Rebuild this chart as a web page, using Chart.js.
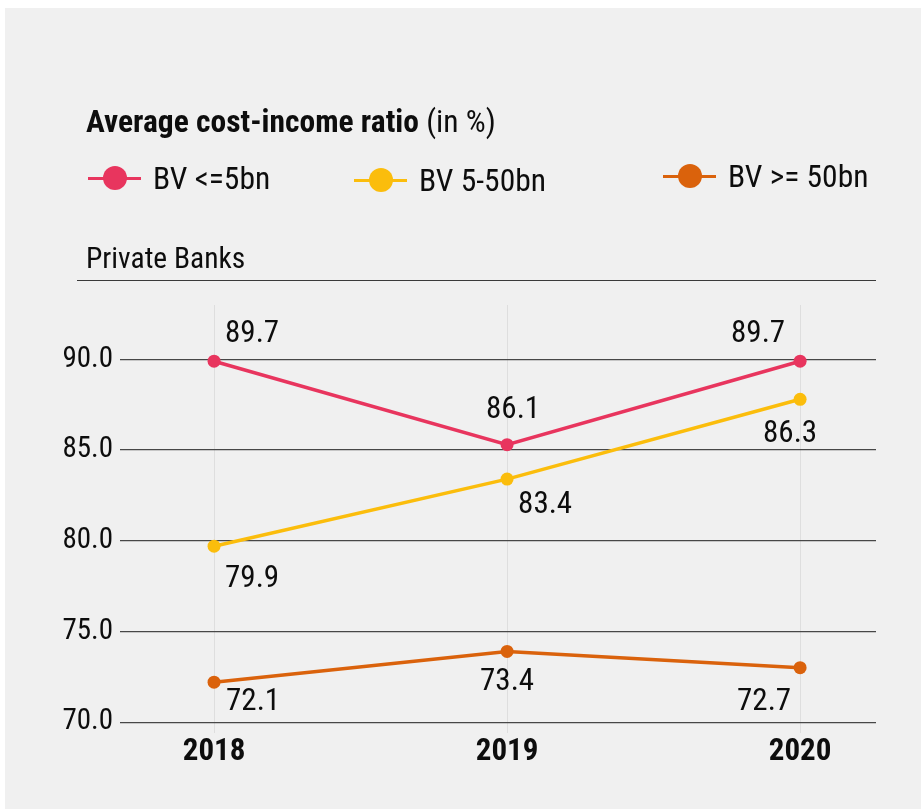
<!DOCTYPE html>
<html>
<head>
<meta charset="utf-8">
<title>Average cost-income ratio</title>
<script src="https://cdn.jsdelivr.net/npm/chart.js@4.4.1/dist/chart.umd.min.js"></script>
<style>
    body {
        margin: 0;
        background: #ffffff;
        font-family: "Liberation Sans Narrow", "Roboto Condensed", "DejaVu Sans Condensed", "Liberation Sans", sans-serif;
        color: #0d0d0d;
    }
    #panel {
        position: absolute;
        left: 5px;
        top: 8px;
        width: 916px;
        height: 801px;
        background: #f0f0f0;
    }
    #chart {
        position: absolute;
        left: 0;
        top: 0;
    }
    .txt {
        position: absolute;
        white-space: nowrap;
        line-height: 1;
    }
    #title {
        left: 86px;
        top: 106px;
        font-size: 31.5px;
    }
    #title b {
        font-weight: bold;
    }
    #subtitle {
        left: 86px;
        top: 244px;
        font-size: 29.5px;
    }
    #rule {
        position: absolute;
        left: 77px;
        top: 280px;
        width: 799px;
        height: 0;
        border-top: 1.5px solid #3a3a3a;
    }
    .legend-item {
        position: absolute;
        height: 30px;
        display: flex;
        align-items: center;
        font-size: 31.5px;
    }
    .marker {
        position: relative;
        width: 53px;
        height: 30px;
        margin-right: 12px;
    }
    .marker .line {
        position: absolute;
        left: 0;
        top: 13.5px;
        width: 53px;
        height: 3px;
    }
    .marker .dot {
        position: absolute;
        left: 15px;
        top: 3px;
        width: 24px;
        height: 24px;
        border-radius: 50%;
    }
</style>
</head>
<body>
<div id="panel"></div>
<canvas id="chart" width="921" height="809"></canvas>
<div class="txt" id="title"><b>Average cost-income ratio</b> (in %)</div>
<div id="legend"></div>
<div class="txt" id="subtitle">Private Banks</div>
<div id="rule"></div>

<script>
// data
const years = [2018, 2019, 2020];
const seriesNames = ["BV <=5bn", "BV 5-50bn", "BV >= 50bn"];
const smallBanks = [89.9, 85.3, 89.9];
const midBanks = [79.7, 83.4, 87.8];
const largeBanks = [72.2, 73.9, 73.0];
// the value labels printed next to the points
const smallLabels = ["89.7", "86.1", "89.7"];
const midLabels = ["79.9", "83.4", "86.3"];
const largeLabels = ["72.1", "73.4", "72.7"];
const yTicks = [70, 75, 80, 85, 90];

const series = [smallBanks, midBanks, largeBanks];
const pointLabels = [smallLabels, midLabels, largeLabels];
const colors = ["#e8355e", "#fbbd0c", "#da620c"];
const fontFamily = '"Liberation Sans Narrow", "Roboto Condensed", "DejaVu Sans Condensed", "Liberation Sans", sans-serif';

// where each value label sits relative to its point
const labelPlacement = [
    [{ dx: 11, dy: -27, align: "left" }, { dx: 6, dy: -34, align: "center" }, { dx: -15, dy: -27, align: "right" }],
    [{ dx: 11, dy: 33, align: "left" }, { dx: 11, dy: 26, align: "left" }, { dx: -10, dy: 35, align: "center" }],
    [{ dx: 12, dy: 20, align: "left" }, { dx: 0, dy: 31, align: "center" }, { dx: -9, dy: 35, align: "right" }],
];

// legend built from the series
const legendSpots = [
    { left: 88, top: 163 },
    { left: 354, top: 165 },
    { left: 663, top: 161 },
];
const legendBox = document.getElementById("legend");
seriesNames.forEach((name, i) => {
    const item = document.createElement("div");
    item.className = "legend-item";
    item.style.left = legendSpots[i].left + "px";
    item.style.top = legendSpots[i].top + "px";
    item.innerHTML =
        '<span class="marker"><span class="line" style="background:' + colors[i] + '"></span>' +
        '<span class="dot" style="background:' + colors[i] + '"></span></span>';
    const label = document.createElement("span");
    label.textContent = name;
    item.appendChild(label);
    legendBox.appendChild(item);
});

const valueLabels = {
    id: "valueLabels",
    afterDatasetsDraw(chart) {
        const ctx = chart.ctx;
        ctx.save();
        ctx.fillStyle = "#0d0d0d";
        ctx.font = "31px " + fontFamily;
        ctx.textBaseline = "middle";
        chart.data.datasets.forEach((ds, i) => {
            const meta = chart.getDatasetMeta(i);
            meta.data.forEach((pt, j) => {
                const p = labelPlacement[i][j];
                ctx.textAlign = p.align;
                ctx.fillText(pointLabels[i][j], pt.x + p.dx, pt.y + p.dy);
            });
        });
        ctx.restore();
    },
};

new Chart(document.getElementById("chart"), {
    type: "line",
    data: {
        datasets: series.map((values, i) => ({
            label: seriesNames[i],
            data: years.map((yr, j) => ({ x: yr, y: values[j] })),
            borderColor: colors[i],
            backgroundColor: colors[i],
            borderWidth: 3.5,
            pointRadius: 6.5,
            pointHoverRadius: 6.5,
            pointBorderWidth: 0,
            tension: 0,
        })),
    },
    options: {
        responsive: false,
        animation: false,
        events: [],
        layout: {
            padding: { top: 305, right: 45, left: 0, bottom: 0 },
        },
        plugins: {
            legend: { display: false },
            tooltip: { enabled: false },
        },
        scales: {
            x: {
                type: "linear",
                min: 2017.679,
                max: 2020.259,
                afterBuildTicks: (scale) => {
                    scale.ticks = years.map((v) => ({ value: v }));
                },
                afterFit: (scale) => {
                    scale.height = 76;
                },
                grid: { color: "#dedede", lineWidth: 1, drawTicks: false },
                border: { display: false },
                ticks: {
                    padding: 1,
                    color: "#0d0d0d",
                    font: { family: fontFamily, size: 31, weight: "bold" },
                    callback: (v) => String(v),
                },
            },
            y: {
                min: 69.4,
                max: 93,
                afterBuildTicks: (scale) => {
                    scale.ticks = yTicks.map((v) => ({ value: v }));
                },
                afterFit: (scale) => {
                    scale.width = 120;
                },
                grid: { color: "#474747", lineWidth: 1.2, drawTicks: false },
                border: { display: false },
                ticks: {
                    padding: 7,
                    color: "#0d0d0d",
                    font: { family: fontFamily, size: 29 },
                    callback: (v) => v.toFixed(1),
                },
            },
        },
    },
    plugins: [valueLabels],
});
</script>
</body>
</html>
